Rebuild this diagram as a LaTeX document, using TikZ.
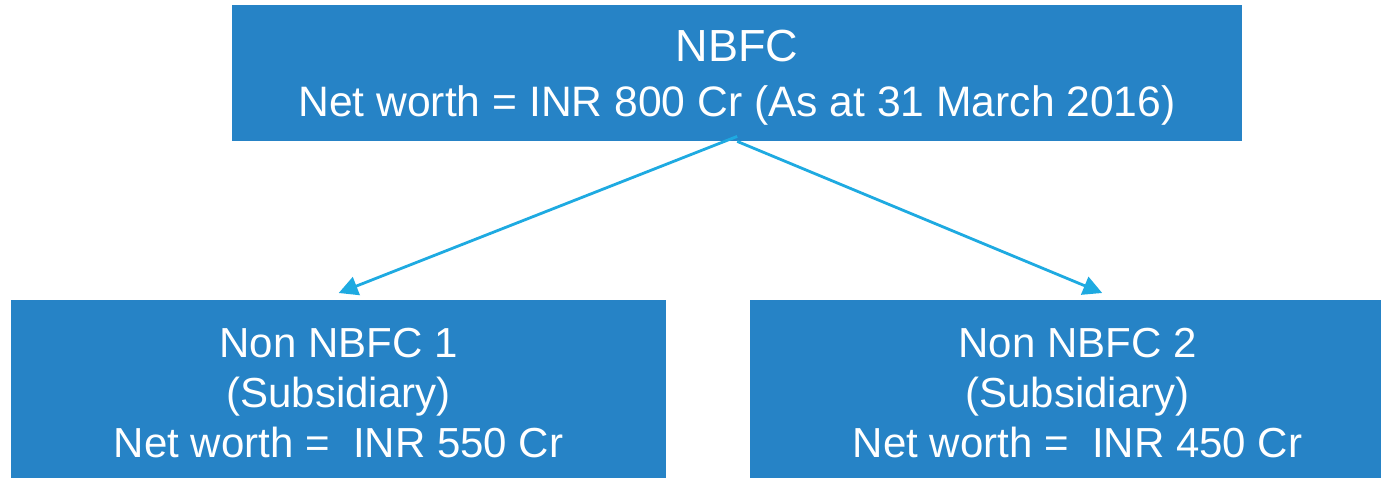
\documentclass[tikz,border=0pt]{standalone}
\usepackage{fontspec}
\setmainfont{Liberation Sans}
\usetikzlibrary{arrows.meta}
\definecolor{boxblue}{HTML}{2683C6}
\definecolor{arrowblue}{HTML}{1EAAE1}
\begin{document}
\begin{tikzpicture}[x=1pt,y=-1pt,
  box/.style={fill=boxblue,inner sep=0pt,anchor=north west},
  txt/.style={text=white,inner sep=0pt,align=center},
  conn/.style={draw=arrowblue,line width=2.8pt,-{Triangle[length=19pt,width=19pt]}}]
\useasboundingbox (0,0) rectangle (1381,478);
\node[box,minimum width=1010pt,minimum height=136pt] (top) at (232,5) {};
\node[box,minimum width=655pt,minimum height=178pt] (l) at (11,300) {};
\node[box,minimum width=655pt,minimum height=178pt] (r) at (750,300) {};
\node[txt,font=\fontsize{42.6}{55}\selectfont] (toptext) at (737,78)
  {\fontsize{45}{55}\selectfont NBFC\\Net worth = INR 800 Cr (As at 31 March 2016)};
\node[txt,font=\fontsize{42}{50}\selectfont] (ltext) at (338.5,393)
  {Non NBFC 1\\(Subsidiary)\\Net worth =\ \ INR 550 Cr};
\node[txt,font=\fontsize{42}{50}\selectfont] (rtext) at (1077.5,393)
  {Non NBFC 2\\(Subsidiary)\\Net worth =\ \ INR 450 Cr};
\coordinate (lend) at ([yshift=7pt]l.north);
\coordinate (rend) at ([xshift=24.5pt,yshift=7pt]r.north);
\draw[conn] ([yshift=5pt]top.south) -- (lend);
\draw[conn] (top.south) -- (rend);
\end{tikzpicture}
\end{document}
